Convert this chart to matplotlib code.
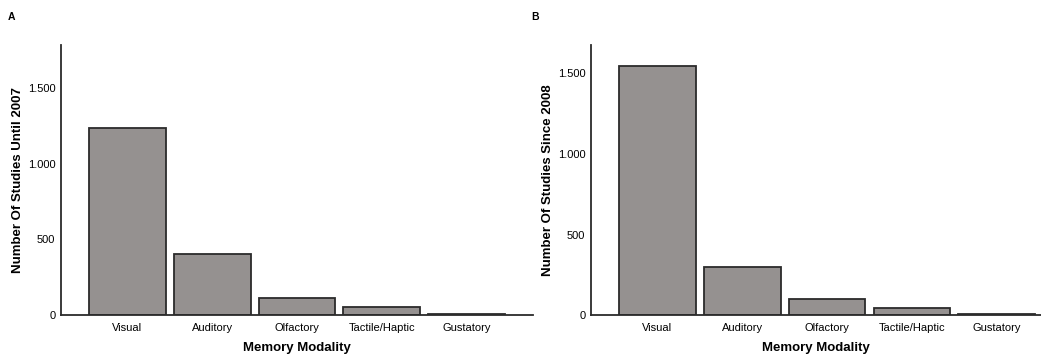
import matplotlib
matplotlib.use("Agg")
import matplotlib.pyplot as plt
from matplotlib.ticker import FuncFormatter

plt.rcParams['font.family'] = ['Liberation Sans', 'DejaVu Sans']

# data
modalities = ["Visual", "Auditory", "Olfactory", "Tactile/Haptic", "Gustatory"]
until_2007 = [1235, 405, 114, 55, 7]
since_2008 = [1548, 296, 99, 45, 4]
yticks = [0, 500, 1000, 1500]

bar_color = '#959190'
edge_color = '#2b2b2b'


def thousands(v, pos):
    return f"{int(v):,}".replace(",", ".")


fig = plt.figure(figsize=(10.41, 3.54), dpi=100)
axA = fig.add_axes([0.0586, 0.110, 0.4534, 0.763])
axB = fig.add_axes([0.5677, 0.110, 0.4323, 0.763])

panels = [
    (axA, until_2007, "Number Of Studies Until 2007", 1783, 4.78, "A", 0.011),
    (axB, since_2008, "Number Of Studies Since 2008", 1677, 4.52, "B", 0.514),
]

for ax, vals, ylab, ymax, xmax, letter, lx in panels:
    x = range(len(modalities))
    ax.bar(x, vals, width=0.905, color=bar_color, edgecolor=edge_color, linewidth=1.3)
    ax.set_xlim(-0.78, xmax)
    ax.set_ylim(0, ymax)
    ax.set_xticks(list(x))
    ax.set_xticklabels(modalities)
    ax.set_yticks(yticks)
    ax.yaxis.set_major_formatter(FuncFormatter(thousands))
    ax.tick_params(axis='both', length=0, labelsize=8)
    ax.tick_params(axis='x', pad=6)
    ax.tick_params(axis='y', pad=4)
    for s in ['top', 'right']:
        ax.spines[s].set_visible(False)
    for s in ['left', 'bottom']:
        ax.spines[s].set_color(edge_color)
        ax.spines[s].set_linewidth(1.3)
    ax.set_ylabel(ylab, fontsize=9.5, fontweight='bold', labelpad=3)
    ax.set_xlabel("Memory Modality", fontsize=9.5, fontweight='bold', labelpad=6)
    fig.text(lx, 0.953, letter, fontsize=7.5, fontweight='bold', ha='center', va='center')

fig.savefig("out.png", dpi=100)
